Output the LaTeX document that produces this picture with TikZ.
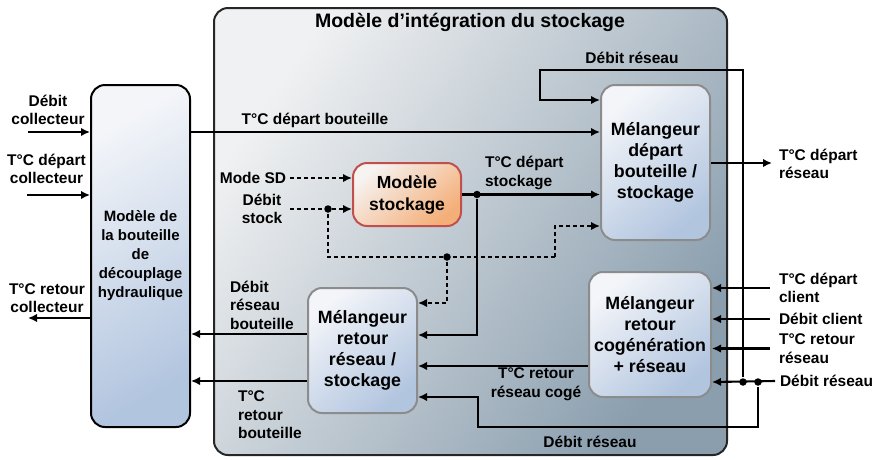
\documentclass[tikz,border=0pt]{standalone}
\usepackage{fontspec}
\setmainfont{Liberation Sans}
\usetikzlibrary{arrows.meta,positioning,calc}

\definecolor{integtop}{HTML}{F0F1F2}
\definecolor{integbot}{HTML}{8A9EAE}
\definecolor{mixtop}{HTML}{F3F5F9}
\definecolor{mixbot}{HTML}{B2C5DF}
\definecolor{mixline}{HTML}{8C8C8C}
\definecolor{stocktop}{HTML}{F6F3F1}
\definecolor{stockbot}{HTML}{F4AE78}
\definecolor{stockline}{HTML}{C0504D}

\begin{document}
\begin{tikzpicture}[x=1pt,y=-1pt,line width=2.1pt,>={Latex[length=9pt,width=8.5pt]},
  lbl/.style={font=\fontsize{15.5}{18.5}\selectfont\bfseries,align=center,inner sep=0pt},
  lblL/.style={lbl,align=left,anchor=west},
  headline/.style={font=\fontsize{19.5}{22}\selectfont\bfseries,inner sep=0pt},
  integ/.style={draw=black!85,line width=2pt,rounded corners=14pt,
    top color=integtop,bottom color=integbot,shading angle=55},
  bottle/.style={draw=black,line width=2pt,rounded corners=14pt,
    top color=mixtop,bottom color=mixbot,shading angle=30,
    font=\fontsize{15}{19}\selectfont\bfseries,align=center},
  mixer/.style={draw=mixline,line width=2pt,rounded corners=14pt,
    top color=mixtop,bottom color=mixbot,shading angle=40,
    font=\fontsize{17.8}{21}\selectfont\bfseries,align=center},
  stock/.style={draw=stockline,line width=2pt,rounded corners=14pt,
    top color=stocktop,bottom color=stockbot,shading angle=40,
    font=\fontsize{17.5}{22}\selectfont\bfseries,align=center},
  sig/.style={dash pattern=on 4pt off 3pt},
  dot/.style={circle,fill=black,inner sep=0pt,minimum size=7.5pt}]
  \useasboundingbox (0,0) rectangle (873,459);

  % blocks
  \node[integ,minimum width=513pt,minimum height=447pt] (integ) at (470.5,231.5) {};
  \node[headline] (titre) at (470,22) {Modèle d’intégration du stockage};
  \node[bottle,minimum width=99pt,minimum height=342pt] (bottle) at (140.5,256)
    {Modèle de\\la bouteille\\de\\découplage\\hydraulique};
  \node[mixer,minimum width=109pt,minimum height=155pt] (mixdep) at (655.5,162.5)
    {Mélangeur\\départ\\bouteille /\\stockage};
  \node[mixer,minimum width=122pt,minimum height=125pt] (mixcog) at (650,334.5)
    {Mélangeur\\retour\\cogénération\\+ réseau};
  \node[mixer,minimum width=109pt,minimum height=125pt] (mixret) at (362.5,350.5)
    {Mélangeur\\retour\\réseau /\\stockage};
  \node[stock,minimum width=108pt,minimum height=63pt] (stock) at (407,194.5)
    {Modèle\\stockage};

  % labels
  \node[lbl] (lDebcol) at (48,110) {Débit\\collecteur};
  \node[lbl] (lTdepcol) at (46.5,169) {T°C départ\\collecteur};
  \node[lbl] (lTretcol) at (47,298) {T°C retour\\collecteur};
  \node[lbl] (lTdepbou) at (315,120) {T°C départ bouteille};
  \node[lbl] (lDebresH) at (632,58) {Débit réseau};
  \node[lblL] (lTdepsto) at (484,173) {T°C départ\\stockage};
  \node[lblL] (lTdepres) at (778,164) {T°C départ\\réseau};
  \node[lblL] (lTdepcli) at (778,288) {T°C départ\\client};
  \node[lblL] (lDebcli) at (778,319) {Débit client};
  \node[lblL] (lTretres) at (778,348.5) {T°C retour\\réseau};
  \node[lblL] (lDebresD) at (779,381) {Débit réseau};
  \node[lbl] (lTretcog) at (536,384) {T°C retour\\réseau cogé};
  \node[lbl] (lDebresB) at (590,442) {Débit réseau};
  \node[lblL] (lDebbou) at (229,305) {Débit\\réseau\\bouteille};
  \node[lblL] (lTretbou) at (237,415) {T°C\\retour\\bouteille};
  \node[lbl] (lMode) at (253,178) {Mode SD};
  \node[lbl] (lDebsto) at (262,209) {Débit\\stock};

  % junctions and corners
  \node[dot] (jA) at (743,382) {};
  \node[dot] (jB) at (758,382) {};
  \node[dot] (jS) at (477,194.5) {};
  \node[dot] (jD1) at (328,209) {};
  \node[dot] (jD2) at (447,257) {};
  \coordinate (inDebcol) at (28,132);
  \coordinate (inTdepcol) at (27,195);
  \coordinate (outTretcol) at (28,318);
  \coordinate (outTdepres) at (772,163);
  \coordinate (topcorner) at (540,70);
  \coordinate (botcorner) at (478,427);
  \coordinate (dcorner) at (555,257);
  \coordinate (cogout) at ([yshift=-31.5pt]mixcog.west);
  \coordinate (debbou) at ([yshift=16.5pt]mixret.west);
  \coordinate (tretbou) at ([yshift=-30.5pt]mixret.west);

  % collecteur side
  \draw[->] (inDebcol) -- (inDebcol -| bottle.west);
  \draw[->] (inTdepcol) -- (inTdepcol -| bottle.west);
  \draw[->] (bottle.west |- outTretcol) -- (outTretcol);
  \draw[->] (bottle.east |- inDebcol) -- (mixdep.west |- inDebcol);

  % stockage
  \draw[sig,->] ([xshift=3pt]lMode.east) -- (stock.west |- lMode);
  \draw[sig,->] ([xshift=7pt]lDebsto.east) -- (stock.west |- lDebsto);
  \draw[sig] (jD1) |- (dcorner);
  \draw[sig,->] (dcorner) |- ([yshift=15pt]mixdep.south west);
  \draw[sig,->] (jD2) |- ([yshift=47.5pt]mixret.east);
  \draw[->] (stock.east) -- (mixdep.west |- stock.east);
  \draw[->] (jS) |- ([yshift=15.5pt]mixret.east);

  % reseau side
  \draw[->] (mixdep.east |- outTdepres) -- (outTdepres);
  \draw[->] (jA) |- (topcorner) |- ([yshift=-16pt]mixdep.north west);
  \draw[->] ([xshift=-4pt]lDebresD.west) -- (mixcog.east |- jA);
  \draw[->] (jB) |- (botcorner) |- ([yshift=-46.5pt]mixret.east);
  \foreach \l in {lTdepcli,lDebcli,lTretres} {
    \draw[->] ([xshift=-8pt]\l.west) -- (mixcog.east |- \l);
  }
  \draw[->] (cogout) -- (cogout -| mixret.east);

  % retour bouteille
  \draw[->] (debbou) -- (debbou -| bottle.east);
  \draw[->] (tretbou) -- (tretbou -| bottle.east);
\end{tikzpicture}
\end{document}
